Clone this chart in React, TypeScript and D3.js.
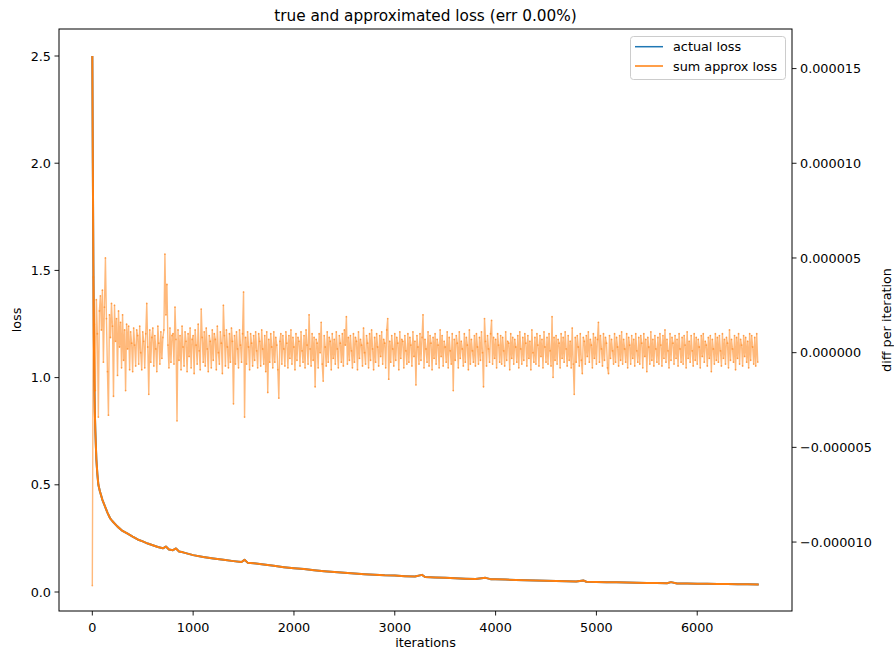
import React from "react";
import * as d3 from "d3";

// ---- data ----
const titleText = "true and approximated loss (err 0.00%)";
const seriesNames = ["actual loss", "sum approx loss"];

// loss curve
const lossIters = [0, 5, 10, 15, 20, 25, 30, 40, 50, 60, 75, 100, 125, 150, 175, 200, 250, 300, 350, 400,
  450, 500, 550, 600, 650, 700, 730, 760, 800, 830, 860, 900, 1000, 1100, 1200, 1300, 1400, 1480, 1510, 1540,
  1600, 1700, 1800, 1900, 2000, 2100, 2200, 2300, 2400, 2500, 2600, 2700, 2800, 2900, 3000, 3100, 3200, 3270, 3300, 3400,
  3500, 3600, 3700, 3800, 3900, 3950, 4000, 4100, 4200, 4300, 4400, 4500, 4600, 4700, 4800, 4870, 4900, 5000, 5100, 5200,
  5300, 5400, 5500, 5600, 5700, 5740, 5800, 5900, 6000, 6100, 6200, 6300, 6400, 6500, 6610];
const lossValues = [2.5, 2.0, 1.55, 1.2, 0.98, 0.84, 0.75, 0.62, 0.55, 0.5, 0.47, 0.43, 0.4, 0.37, 0.345, 0.33, 0.305, 0.285, 0.272, 0.258,
  0.245, 0.236, 0.226, 0.218, 0.21, 0.204, 0.212, 0.198, 0.195, 0.203, 0.189, 0.185, 0.172, 0.163, 0.156, 0.15, 0.144, 0.14, 0.15, 0.137,
  0.134, 0.128, 0.122, 0.116, 0.111, 0.107, 0.102, 0.097, 0.093, 0.09, 0.086, 0.083, 0.081, 0.078, 0.077, 0.074, 0.072, 0.08, 0.07, 0.068,
  0.066, 0.064, 0.062, 0.061, 0.066, 0.06, 0.059, 0.058, 0.056, 0.055, 0.054, 0.052, 0.051, 0.05, 0.049, 0.054, 0.048, 0.047, 0.046, 0.045,
  0.044, 0.043, 0.042, 0.042, 0.041, 0.046, 0.04, 0.04, 0.039, 0.038, 0.037, 0.037, 0.036, 0.036, 0.035];

// diff per iteration, one value every 10 iterations, in units of 1e-7
const diffStep = 10;
const diffValues = [
  -123, 40, 15, -20, 28, 10, -34, 22, 30, 12, 33, -5, 24, 50, 18, -10, -33, 20, 8, 26,
  14, -23, 25, 6, 18, -12, 22, 3, 16, -8, 20, -4, 12, -20, 15, 2, 14, -9, 11, 5,
  -10, 13, 4, -7, 12, 9, -6, 14, 0, -9, 11, 6, -8, 10, 26, 3, -22, 12, -5, 8,
  13, -7, 9, 2, -10, 14, 5, -6, 11, -3, 8, 12, 52, 20, 36, 4, -8, 13, -5, 9,
  10, -6, 24, 7, -36, 12, -4, 9, -9, 14, 3, -7, 11, 6, -10, 10, -2, 13, -8, 7,
  9, -11, 12, 4, -6, 15, 1, -9, 23, 8, -5, 11, -7, 13, 2, -10, 9, 6, -8, 12,
  -4, 10, 7, -9, 14, 0, -6, 11, 5, -11, 25, 9, -7, 12, 3, -8, 10, -5, 13, 6,
  -27, 9, -6, 11, 2, -8, 12, 4, -5, 10, 32, -34, 8, -6, 11, 3, -9, 10, 5, -7,
  9, -4, 11, 1, -8, 10, 6, -7, 12, 2, -6, 9, -10, 11, -21, 7, -5, 10, 3, -8,
  11, -5, 8, 4, -9, -24, 6, 10, -6, 9, 2, -7, 11, 5, -8, 9, -3, 12, -6, 8,
  3, -9, 10, -4, 8, 6, -7, 11, 1, -5, 9, -8, 12, 4, -6, 20, 2, -7, 10, -4,
  8, -18, 7, 5, -8, 10, 0, 16, -6, -15, 9, 3, -7, 11, -5, 8, 6, -9, 10, -3,
  7, -6, 11, 2, -8, 9, 5, -5, 10, -7, 12, 4, 19, -6, 8, -4, 9, 1, -8, 10,
  -5, 8, 6, -9, 11, -3, 7, 4, -7, 13, 0, -6, 9, 5, -8, 10, -4, 12, 2, -9,
  8, -5, 10, 3, -7, 9, -2, 11, -6, 7, 5, -8, 12, 18, -14, 6, -5, 9, 2, -7,
  10, -4, 8, 5, -9, 11, -3, 7, 6, -8, 9, 1, -6, 10, -5, 8, 4, -7, 11, -2,
  6, -17, 9, 3, -6, 10, -4, 8, 20, -8, 7, 2, -5, 11, -7, 9, 5, -9, 8, -3,
  10, -6, 7, 4, -8, 12, -2, 9, -7, 6, 3, -5, 11, -8, 8, 1, -6, 10, -20, 7,
  -4, 9, 5, -8, 11, -3, 6, 2, -7, 10, -5, 8, 4, -9, 12, -6, 7, 1, -5, 9,
  -7, 10, 3, -6, 8, -4, 11, 0, -18, 18, 6, -7, 9, 2, -5, 10, 17, -6, 8, -3,
  7, -8, 10, 4, -5, 9, -6, 8, 1, -7, 11, -4, 6, 5, -9, 10, -3, 8, -6, 7,
  3, -5, 9, -8, 11, 2, -6, 8, -4, 10, 5, -7, 9, -3, 6, -9, 12, 0, -5, 8,
  -6, 10, 4, -7, 9, -2, 7, -8, 11, 3, -5, 8, -6, 10, 1, -7, 19, -13, 8, -4,
  9, -6, 7, 5, -8, 10, -3, 8, -5, 11, 2, -7, 9, -4, 6, -8, 13, -6, -22, 8,
  -5, 9, 3, -7, 10, -4, -11, 8, 6, -6, 9, -2, 11, -5, 7, 4, -8, 10, -3, 8,
  -6, 7, 16, -5, 9, 2, -7, 10, -4, 8, 5, -8, -11, 9, -3, 7, 1, -6, 10, -5,
  8, 3, -7, 9, -4, 11, -6, 7, 2, -5, 10, -8, 8, 4, -6, 9, -3, 7, -7, 10,
  1, -5, 8, -6, 9, 5, -8, 10, -2, 7, -10, 8, 3, -6, 11, -4, 7, -7, 9, 2,
  -5, 8, -6, 10, 4, -7, 9, -3, 12, -5, 7, 1, -8, 10, -4, 8, 5, -6, 9, -3,
  7, -7, 10, 2, -5, 8, -6, 9, 4, -8, 11, -3, 6, -5, 9, 1, -7, 10, -4, 8,
  -6, 7, 3, -8, 9, -2, 10, -5, 6, 4, -7, 8, -3, 9, -10, 7, 2, -6, 10, -4,
  8, -5, 9, 1, -7, 10, -3, 7, -6, 8, 5, -8, 12, -4, 7, 2, -5, 9, -9, 8,
  -3, 10, -6, 7, 4, -7, 9, -2, 8, -5, 6, -8, 10, -4, 9, 3, -6, 8, -7, 10,
  -5,
];
const diffUnit = 1e-7;

const xTicks = [0, 1000, 2000, 3000, 4000, 5000, 6000];
const yLeftTicks = [0, 0.5, 1.0, 1.5, 2.0, 2.5];
const yRightTicks = [-0.00001, -0.000005, 0, 0.000005, 0.00001, 0.000015];

const C0 = "#1f77b4";
const C1 = "#ff7f0e";
const FONT = "DejaVu Sans, sans-serif";

export default function App() {
  const W = 894, H = 653;
  const L = 59, R = 792, T = 29, B = 611;
  const x = d3.scaleLinear().domain([-330.5, 6940]).range([L, R]);
  const yL = d3.scaleLinear().domain([-0.0886, 2.626]).range([B, T]);
  const yR = d3.scaleLinear().domain([-1.364e-5, 1.709e-5]).range([B, T]);

  const lossData = d3.zip(lossIters, lossValues) as [number, number][];
  const lossLine = d3.line<[number, number]>().x(d => x(d[0])).y(d => yL(d[1]));
  const diffData = diffValues.map((v, i) => [i * diffStep, v * diffUnit] as [number, number]);
  const diffLine = d3.line<[number, number]>().x(d => x(d[0])).y(d => yR(d[1]));

  const fs = 12.8;
  const fmtRight = (v: number) => (v < 0 ? "\u2212" : "") + Math.abs(v).toFixed(6);

  return (
    <svg width={W} height={H} style={{ position: "absolute", left: 0, top: 0, background: "#fff" }}
      fontFamily={FONT}>
      <rect x={0} y={0} width={W} height={H} fill="#fff" />
      <defs>
        <clipPath id="plotclip"><rect x={L} y={T} width={R - L} height={B - T} /></clipPath>
      </defs>
      <g clipPath="url(#plotclip)">
        <path d={lossLine(lossData) || ""} fill="none" stroke={C0} strokeWidth={2} strokeLinejoin="round" />
        <path d={lossLine(lossData) || ""} fill="none" stroke={C1} strokeWidth={2} strokeLinejoin="round" />
        <path d={diffLine(diffData) || ""} fill="none" stroke={C1} strokeOpacity={0.55} strokeWidth={1.4} strokeLinejoin="round" />
        {diffData.map((d, i) => (
          <circle key={i} cx={x(d[0])} cy={yR(d[1])} r={0.9} fill={C1} fillOpacity={0.55} />
        ))}
      </g>
      {/* frame */}
      <rect x={L} y={T} width={R - L} height={B - T} fill="none" stroke="#000" strokeWidth={1} />
      {/* x ticks */}
      {xTicks.map(t => (
        <g key={"x" + t}>
          <line x1={x(t)} x2={x(t)} y1={B} y2={B + 4.5} stroke="#000" strokeWidth={0.9} />
          <text x={x(t)} y={B + 21} textAnchor="middle" fontSize={fs} fill="#000">{t}</text>
        </g>
      ))}
      {/* left ticks */}
      {yLeftTicks.map(t => (
        <g key={"yl" + t}>
          <line x1={L - 4.5} x2={L} y1={yL(t)} y2={yL(t)} stroke="#000" strokeWidth={0.9} />
          <text x={L - 8} y={yL(t) + 4.6} textAnchor="end" fontSize={fs} fill="#000">{t.toFixed(1)}</text>
        </g>
      ))}
      {/* right ticks */}
      {yRightTicks.map(t => (
        <g key={"yr" + t}>
          <line x1={R} x2={R + 4.5} y1={yR(t)} y2={yR(t)} stroke="#000" strokeWidth={0.9} />
          <text x={R + 8} y={yR(t) + 4.6} textAnchor="start" fontSize={fs} fill="#000">{fmtRight(t)}</text>
        </g>
      ))}
      {/* labels */}
      <text x={(L + R) / 2} y={647} textAnchor="middle" fontSize={fs} fill="#000">iterations</text>
      <text transform={`translate(21,${(T + B) / 2}) rotate(-90)`} textAnchor="middle" fontSize={fs} fill="#000">loss</text>
      <text transform={`translate(891,${(T + B) / 2}) rotate(-90)`} textAnchor="middle" fontSize={fs} fill="#000">diff per iteration</text>
      <text x={(L + R) / 2} y={21} textAnchor="middle" fontSize={15.3} fill="#000">{titleText}</text>
      {/* legend */}
      <g>
        <rect x={630.5} y={36.5} width={155} height={43} rx={3} fill="#fff" fillOpacity={0.8} stroke="#ccc" strokeWidth={1} />
        {seriesNames.map((n, i) => (
          <g key={n}>
            <line x1={635} x2={663} y1={46.7 + i * 19.3} y2={46.7 + i * 19.3} stroke={i === 0 ? C0 : C1} strokeWidth={1.5} />
            <text x={673} y={51.2 + i * 19.3} fontSize={fs} fill="#000">{n}</text>
          </g>
        ))}
      </g>
    </svg>
  );
}
